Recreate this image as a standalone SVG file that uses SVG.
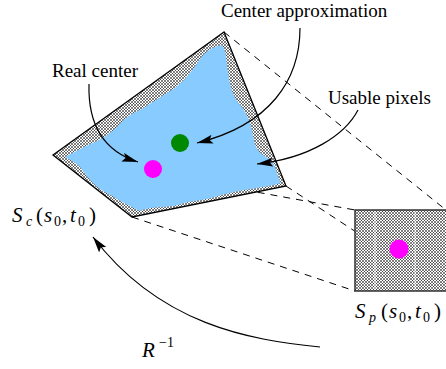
<svg xmlns="http://www.w3.org/2000/svg" width="446" height="369" viewBox="0 0 446 369">
<style>
.lbl{font-family:"Liberation Serif",serif;font-size:19px;fill:#000}
.m{font-family:"Liberation Serif",serif;font-size:21px;font-style:italic;fill:#000}
.mu{font-family:"Liberation Serif",serif;font-size:21px;fill:#000}
.sub{font-family:"Liberation Serif",serif;font-size:14px;fill:#000}
.subi{font-family:"Liberation Serif",serif;font-size:14px;font-style:italic;fill:#000}
.dash{stroke:#000;stroke-width:1;stroke-dasharray:7 6;fill:none}
.arr{stroke:#000;stroke-width:1.2;fill:none;marker-end:url(#ah)}
</style>
<defs>
<pattern id="hatch" patternUnits="userSpaceOnUse" width="3" height="3">
<rect width="3" height="3" fill="#fff"/>
<path d="M0,0 L3,3 M3,0 L0,3" stroke="#000" stroke-width="0.5"/>
</pattern>
<marker id="ah" markerUnits="userSpaceOnUse" markerWidth="17" markerHeight="9" refX="16" refY="4.5" orient="auto">
<path d="M0,0 L16,4.5 L0,9 L3,4.5 Z" fill="#000"/>
</marker>
</defs>
<g id="connectors">
<line class="dash" x1="224" y1="32" x2="446" y2="210"/>
<line class="dash" x1="286" y1="186" x2="446" y2="291"/>
<line class="dash" x1="132" y1="217" x2="355" y2="291"/>
<line class="dash" x1="53" y1="155" x2="355" y2="210"/>
</g>
<g id="region-sc">
<polygon points="224,32 286,186 132,217 53,155" fill="url(#hatch)" stroke="#000" stroke-width="1.3"/>
<path d="M65,157 C75,152 85,146 95,142 C104,138 110,133 117,127 C123,120 130,114 140,110 C150,104 160,97 172,90 C182,83 190,74 198,62 C204,53 210,47 222,45 C227,52 226,62 228,72 C230,85 232,97 242,107 C250,118 252,130 254,140 C255,150 262,155 270,159 C276,165 276,173 281,183 C265,188 240,189 215,197 C200,201 188,201 178,205 C165,208 150,206 140,211 C128,206 115,197 103,191 C92,184 86,175 80,167 C75,162 70,160 65,157 Z" fill="#88ccff"/>
</g>
<g id="real-center-dot"><circle cx="153" cy="169" r="9" fill="#ff00ff"/></g>
<g id="approx-center-dot"><circle cx="180" cy="143" r="9" fill="#008800"/></g>
<g id="region-sp">
<rect x="355" y="210" width="93" height="81" fill="url(#hatch)" stroke="#333" stroke-width="1.5"/>
<line x1="375" y1="211" x2="375" y2="290" stroke="#fff" stroke-width="0.8"/>
<line x1="415" y1="211" x2="415" y2="290" stroke="#fff" stroke-width="0.8"/>
<circle cx="399" cy="249" r="9.5" fill="#ff00ff"/>
</g>
<g id="arrows">
<path class="arr" d="M300,28 C300,80 270,125 197,143"/>
<path class="arr" d="M89,84 C88,120 100,150 138,162"/>
<path class="arr" d="M358,110 C345,135 310,158 257,164"/>
<path class="arr" d="M320,347 C250,340 160,325 93,237"/>
</g>
<g id="labels">
<text class="lbl" x="221" y="17">Center approximation</text>
<text class="lbl" x="52" y="77">Real center</text>
<text class="lbl" x="328" y="104">Usable pixels</text>
<g id="label-sc">
<text class="m" x="12" y="222">S</text>
<text class="subi" x="26" y="226">c</text>
<text class="mu" x="36" y="222">(</text>
<text class="m" x="44" y="222">s</text>
<text class="sub" x="54" y="226">0</text>
<text class="mu" x="62" y="222">,</text>
<text class="m" x="70" y="222">t</text>
<text class="sub" x="78" y="226">0</text>
<text class="mu" x="89" y="222">)</text>
</g>
<g id="label-sp">
<text class="m" x="355" y="318">S</text>
<text class="subi" x="369" y="322">p</text>
<text class="mu" x="381" y="318">(</text>
<text class="m" x="389" y="318">s</text>
<text class="sub" x="399" y="322">0</text>
<text class="mu" x="407" y="318">,</text>
<text class="m" x="415" y="318">t</text>
<text class="sub" x="423" y="322">0</text>
<text class="mu" x="434" y="318">)</text>
</g>
<g id="label-r">
<text class="m" x="142" y="357">R</text>
<text class="sub" x="159" y="347">−1</text>
</g>
</g>
</svg>
